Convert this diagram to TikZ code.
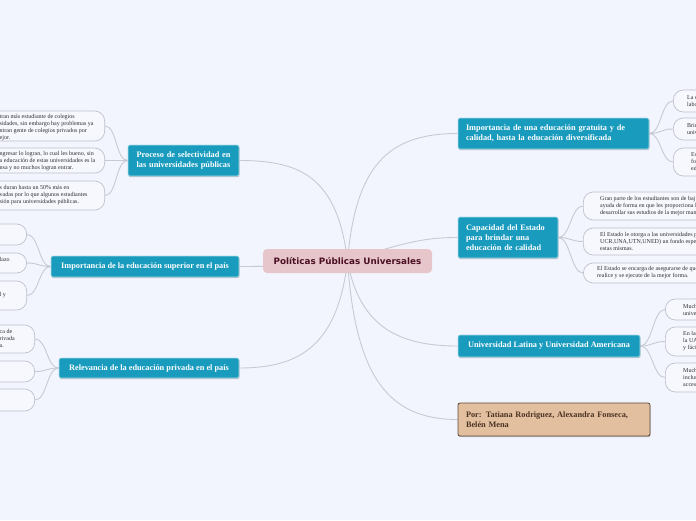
\documentclass[tikz,border=0pt]{standalone}
\usepackage{fontspec}
\setmainfont{Liberation Serif}
\newfontfamily\centerfont{DejaVu Sans}
\usetikzlibrary{shadows,calc}
\definecolor{bgc}{HTML}{F2F5FD}
\definecolor{tealbox}{HTML}{199BBE}
\definecolor{conncol}{HTML}{C6CAD4}
\definecolor{leafborder}{HTML}{BDC1CB}
\definecolor{leaffill}{HTML}{F6F8FE}
\definecolor{centerfill}{HTML}{E7C6CB}
\definecolor{centertext}{HTML}{4A0F24}
\definecolor{authfill}{HTML}{E2BF9F}
\definecolor{authborder}{HTML}{5C4837}
\definecolor{authtext}{HTML}{4A3322}
\definecolor{leaftextc}{HTML}{2E2E2E}
\pgfdeclarelayer{bg}\pgfdeclarelayer{lines}\pgfsetlayers{bg,lines,main}
\newcommand\curvelink[4]{\draw[conn] (#1) .. controls ($(#1)+(#3)$) and ($(#2)+(#4)$) .. (#2);}
\begin{document}
\begin{tikzpicture}[x=1pt,y=-1pt,
 topic/.style={fill=tealbox, draw=white!65!tealbox, line width=0.6pt, rounded corners=2pt, text=white,
   font=\fontsize{8.3}{10}\selectfont\bfseries, inner xsep=9pt, inner ysep=0pt,
   drop shadow={shadow xshift=0.5pt, shadow yshift=-1.2pt, opacity=0.3, fill=black!70}},
 authbox/.style={fill=authfill, draw=authborder, line width=0.8pt, rounded corners=2pt, text=authtext,
   font=\fontsize{8.3}{10}\selectfont\bfseries, inner xsep=9pt, inner ysep=0pt,
   drop shadow={shadow xshift=0.5pt, shadow yshift=-1.2pt, opacity=0.3, fill=black!70}},
 centerbox/.style={fill=centerfill, rounded corners=4pt, text=centertext,
   font=\centerfont\fontsize{8.8}{10}\selectfont\bfseries, inner sep=0pt},
 leafbox/.style={draw=leafborder, fill=leaffill, line width=0.7pt, rounded corners=10pt, inner sep=0pt},
 leaftext/.style={font=\fontsize{6}{7}\selectfont, text=leaftextc, align=left, inner sep=0pt, anchor=west},
 conn/.style={draw=conncol, line width=0.9pt},
]
\begin{pgfonlayer}{bg}
\fill[bgc] (0,0) rectangle (696,520);
\end{pgfonlayer}
\useasboundingbox (0,0) rectangle (696,520);
\clip (0,0) rectangle (696,520);

% central node
\node[centerbox, minimum width=169pt, minimum height=24pt] (c) at (347.5,261) {Políticas Públicas Universales};

% main topics
\node[topic, text width=175pt, inner xsep=8pt, align=left, minimum height=31pt] (r1) at (553.5,133.5) {Importancia de una educación gratuita y de\\calidad, hasta la educación diversificada};
\node[topic, text width=84pt, inner xsep=8pt, align=left, minimum height=41pt] (r2) at (508,237.5) {Capacidad del Estado\\para brindar una\\educación de calidad};
\node[topic, minimum width=182pt, minimum height=22pt] (r3) at (549,346) {Universidad Latina y Universidad Americana};
\node[authbox, text width=176pt, inner xsep=8pt, align=left, minimum height=33pt] (r4) at (554,419.5) {Por: Tatiana Rodriguez, Alexandra Fonseca,\\Belén Mena};
\node[topic, text width=101pt, inner xsep=5pt, align=center, minimum height=31pt] (l1) at (183.5,160.5) {Proceso de selectividad en\\las universidades públicas};
\node[topic, minimum width=188pt, minimum height=21pt] (l2) at (145,266.5) {Importancia de la educación superior en el país};
\node[topic, minimum width=180pt, minimum height=20pt] (l3) at (149,368) {Relevancia de la educación privada en el país};

% left leaves of l1
\node[leafbox, anchor=east, minimum width=140pt, minimum height=30pt] (l1a) at (105,126) {};
\node[leaftext] (l1at) at (-0.5,127.5) {tran más estudiante de colegios\\sidades, sin embargo hay problemas ya\\ntran gente de colegios privados por\\ejor.};
\node[leafbox, anchor=east, minimum width=140pt, minimum height=25pt] (l1b) at (105,160.5) {};
\node[leaftext] (l1bt) at (-0.5,161) {ngresar lo logran, lo cual les bueno, sin\\a educación de estas universidades es la\\nsa y no muchos logran entrar.};
\node[leafbox, anchor=east, minimum width=140pt, minimum height=29pt] (l1c) at (105,195.5) {};
\node[leaftext] (l1ct) at (-0.5,195.5) {s duran hasta un 50\% más en\\vadas por lo que algunos estudiantes\\sión para universidades públicas.};

% left leaves of l2
\node[leafbox, anchor=east, minimum width=80pt, minimum height=21pt] (l2a) at (27,234.5) {};
\node[leafbox, anchor=east, minimum width=80pt, minimum height=20pt] (l2b) at (27,263) {};
\node[leaftext] (l2bt) at (-0.5,259) {lazo};
\node[leafbox, anchor=east, minimum width=80pt, minimum height=29pt] (l2c) at (27,295.5) {};
\node[leaftext] (l2ct) at (-0.5,295.5) {l y};

% left leaves of l3
\node[leafbox, anchor=east, minimum width=80pt, minimum height=28pt] (l3a) at (35,339) {};
\node[leaftext] (l3at) at (-0.5,338) {ca de\\rivada\\a.};
\node[leafbox, anchor=east, minimum width=80pt, minimum height=21pt] (l3b) at (35,371.5) {};
\node[leafbox, anchor=east, minimum width=80pt, minimum height=22pt] (l3c) at (35,400) {};

% right leaves of r1
\node[leafbox, anchor=west, minimum width=60pt, minimum height=22pt] (r1a) at (673,101) {};
\node[leaftext] (r1at) at (687,101) {La e\\labo};
\node[leafbox, anchor=west, minimum width=60pt, minimum height=22pt] (r1b) at (673,129) {};
\node[leaftext] (r1bt) at (687,129) {Brin\\univ};
\node[leafbox, anchor=west, minimum width=60pt, minimum height=28pt] (r1c) at (673,162) {};
\node[leaftext] (r1ct) at (691,162) {Es\\fo\\ed};

% right leaves of r2
\node[leafbox, anchor=west, minimum width=150pt, minimum height=28pt] (r2a) at (583,206) {};
\node[leaftext] (r2at) at (600,206) {Gran parte de los estudiantes son de baj\\ayuda de forma en que les proporciona l\\desarrollar sus estudios de la mejor man};
\node[leafbox, anchor=west, minimum width=150pt, minimum height=27pt] (r2b) at (583,241.5) {};
\node[leaftext] (r2bt) at (600,241.5) {El Estado le otorga a las universidades p\\UCR,UNA,UTN,UNED) un fondo espe\\estas mismas.};
\node[leafbox, anchor=west, minimum width=150pt, minimum height=20pt] (r2c) at (583,273) {};
\node[leaftext] (r2ct) at (597,273) {El Estado se encarga de asegurarse de que\\realice y se ejecute de la mejor forma.};

% right leaves of r3
\node[leafbox, anchor=west, minimum width=60pt, minimum height=21pt] (r3a) at (665,309.5) {};
\node[leaftext] (r3at) at (683,309.5) {Mucho\\univers};
\node[leafbox, anchor=west, minimum width=60pt, minimum height=29pt] (r3b) at (665,341.5) {};
\node[leaftext] (r3bt) at (683,341.5) {En las\\la UA\\y fácil};
\node[leafbox, anchor=west, minimum width=60pt, minimum height=29pt] (r3c) at (665,377.5) {};
\node[leaftext] (r3ct) at (683,377.5) {Mucho\\inclus\\accesi};

\begin{pgfonlayer}{lines}
% main connectors
\curvelink{c.center}{r1.west}{8,-95}{-70,0}
\curvelink{c.center}{r2.west}{60,-20}{-30,0}
\curvelink{c.center}{r3.west}{12,65}{-60,0}
\curvelink{c.center}{r4.west}{8,115}{-70,0}
\curvelink{c.center}{l1.east}{-10,-85}{60,0}
\curvelink{c.center}{l2.east}{-40,5}{25,0}
\curvelink{c.center}{l3.east}{-10,85}{60,0}
% leaf connectors
\curvelink{l1.west}{l1a.east}{-12,0}{12,0}
\curvelink{l1.west}{l1b.east}{-12,0}{12,0}
\curvelink{l1.west}{l1c.east}{-12,0}{12,0}
\curvelink{l2.west}{l2a.east}{-12,0}{12,0}
\curvelink{l2.west}{l2b.east}{-12,0}{12,0}
\curvelink{l2.west}{l2c.east}{-12,0}{12,0}
\curvelink{l3.west}{l3a.east}{-12,0}{12,0}
\curvelink{l3.west}{l3b.east}{-12,0}{12,0}
\curvelink{l3.west}{l3c.east}{-12,0}{12,0}
\curvelink{r1.east}{r1a.west}{12,0}{-12,0}
\curvelink{r1.east}{r1b.west}{12,0}{-12,0}
\curvelink{r1.east}{r1c.west}{12,0}{-12,0}
\curvelink{r2.east}{r2a.west}{12,0}{-12,0}
\curvelink{r2.east}{r2b.west}{12,0}{-12,0}
\curvelink{r2.east}{r2c.west}{12,0}{-12,0}
\curvelink{r3.east}{r3a.west}{12,0}{-12,0}
\curvelink{r3.east}{r3b.west}{12,0}{-12,0}
\curvelink{r3.east}{r3c.west}{12,0}{-12,0}
\end{pgfonlayer}
\end{tikzpicture}
\end{document}
